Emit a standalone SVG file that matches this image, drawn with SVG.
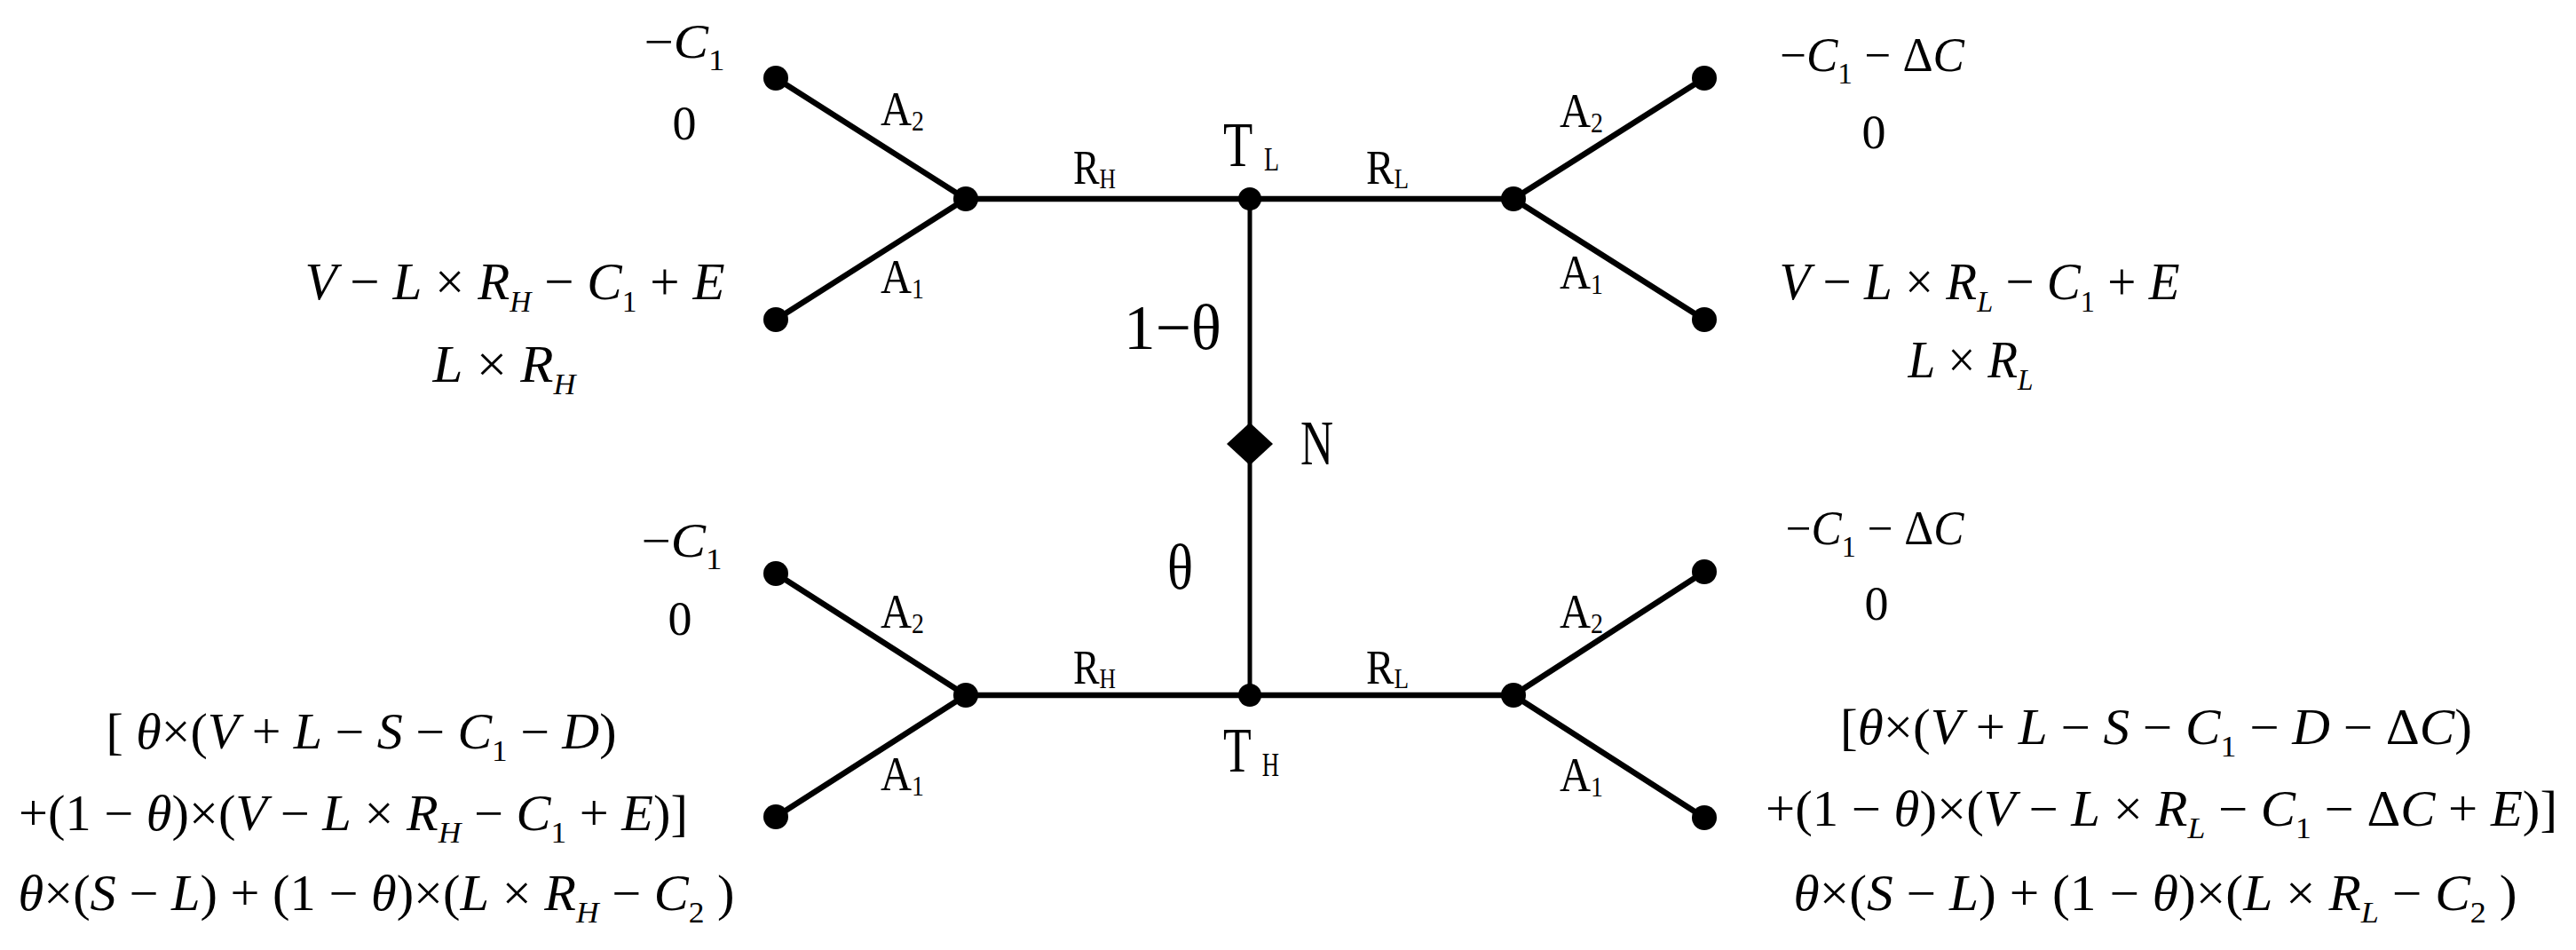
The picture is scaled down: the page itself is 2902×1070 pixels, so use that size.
<svg xmlns="http://www.w3.org/2000/svg" width="2902" height="1070" viewBox="0 0 2902 1070">
<style>
.bg{fill:#fff}
.ln{stroke:#000;stroke-width:6.5;fill:none;stroke-linecap:round}
.vl{stroke:#000;stroke-width:5;fill:none}
.dot{fill:#000}
text{font-family:"Liberation Serif","Times New Roman",serif;fill:#000}
.lab{font-size:54px}
.lab .s{font-size:31px}
.big{font-size:72px}
.big .s{font-size:37px}
.m60{font-size:60px}
.m56{font-size:56px}
.m54{font-size:54px}
.i{font-style:italic}
.sub{font-size:34px}
</style>
<rect class="bg" x="0" y="0" width="2902" height="1070"/>
<g id="connectors">
<line class="ln" x1="874" y1="88" x2="1088" y2="224"/>
<line class="ln" x1="874" y1="360" x2="1088" y2="224"/>
<line class="ln" x1="1088" y1="224" x2="1705" y2="224"/>
<line class="ln" x1="1705" y1="224" x2="1920" y2="88"/>
<line class="ln" x1="1705" y1="224" x2="1920" y2="360"/>
<line class="vl" x1="1408" y1="224" x2="1408" y2="783"/>
<line class="ln" x1="874" y1="646" x2="1088" y2="783"/>
<line class="ln" x1="874" y1="920" x2="1088" y2="783"/>
<line class="ln" x1="1088" y1="783" x2="1705" y2="783"/>
<line class="ln" x1="1705" y1="783" x2="1920" y2="644"/>
<line class="ln" x1="1705" y1="783" x2="1920" y2="921"/>
</g>
<g id="edge-labels">
<text class="lab" x="992" y="141" textLength="49" lengthAdjust="spacingAndGlyphs">A<tspan class="s" dy="6">2</tspan></text>
<text class="lab" x="992" y="330" textLength="49" lengthAdjust="spacingAndGlyphs">A<tspan class="s" dy="6">1</tspan></text>
<text class="lab" x="1209" y="207" textLength="48" lengthAdjust="spacingAndGlyphs">R<tspan class="s" dy="5">H</tspan></text>
<text class="lab" x="1539" y="207" textLength="48" lengthAdjust="spacingAndGlyphs">R<tspan class="s" dy="5">L</tspan></text>
<text class="lab" x="1757" y="143" textLength="49" lengthAdjust="spacingAndGlyphs">A<tspan class="s" dy="6">2</tspan></text>
<text class="lab" x="1757" y="325" textLength="49" lengthAdjust="spacingAndGlyphs">A<tspan class="s" dy="6">1</tspan></text>
<text class="big" x="1266" y="393" textLength="110" lengthAdjust="spacingAndGlyphs">1−θ</text>
<text class="big" x="1315" y="663" font-size="62" textLength="29" lengthAdjust="spacingAndGlyphs">θ</text>
<text class="lab" x="992" y="707" textLength="49" lengthAdjust="spacingAndGlyphs">A<tspan class="s" dy="6">2</tspan></text>
<text class="lab" x="992" y="890" textLength="49" lengthAdjust="spacingAndGlyphs">A<tspan class="s" dy="6">1</tspan></text>
<text class="lab" x="1209" y="770" textLength="48" lengthAdjust="spacingAndGlyphs">R<tspan class="s" dy="5">H</tspan></text>
<text class="lab" x="1539" y="770" textLength="48" lengthAdjust="spacingAndGlyphs">R<tspan class="s" dy="5">L</tspan></text>
<text class="lab" x="1757" y="707" textLength="49" lengthAdjust="spacingAndGlyphs">A<tspan class="s" dy="6">2</tspan></text>
<text class="lab" x="1757" y="891" textLength="49" lengthAdjust="spacingAndGlyphs">A<tspan class="s" dy="6">1</tspan></text>
</g>
<g id="node-TL">
<circle class="dot" cx="1408" cy="224" r="13"/>
<text class="big" x="1378" y="187" textLength="63" lengthAdjust="spacingAndGlyphs">T <tspan class="s" dy="5">L</tspan></text>
</g>
<g id="node-TH">
<circle class="dot" cx="1408" cy="783" r="13"/>
<text class="big" x="1378" y="869" textLength="63" lengthAdjust="spacingAndGlyphs">T <tspan class="s" dy="5">H</tspan></text>
</g>
<g id="node-N">
<polygon class="dot" points="1408,476 1434,500 1408,524 1382,500"/>
<text class="big" x="1465" y="523" textLength="37" lengthAdjust="spacingAndGlyphs">N</text>
</g>
<g id="node-TL-RH">
<circle class="dot" cx="1088" cy="224" r="14"/>
</g>
<g id="node-TL-RL">
<circle class="dot" cx="1705" cy="224" r="14"/>
</g>
<g id="node-TH-RH">
<circle class="dot" cx="1088" cy="783" r="14"/>
</g>
<g id="node-TH-RL">
<circle class="dot" cx="1705" cy="783" r="14"/>
</g>
<g id="leaf-TL-RH-A2">
<circle class="dot" cx="874" cy="88" r="14"/>
<text class="m54" x="771" y="65" text-anchor="middle" textLength="91" lengthAdjust="spacingAndGlyphs">−<tspan class="i">C</tspan><tspan class="sub" dy="14">1</tspan></text>
<text class="m54" x="771" y="157" text-anchor="middle">0</text>
</g>
<g id="leaf-TL-RH-A1">
<circle class="dot" cx="874" cy="360" r="14"/>
<text class="m60" x="580" y="337" text-anchor="middle" textLength="473" lengthAdjust="spacingAndGlyphs"><tspan class="i">V</tspan> − <tspan class="i">L</tspan> × <tspan class="i">R</tspan><tspan class="i sub" dy="14">H</tspan><tspan dy="-14"> − </tspan><tspan class="i">C</tspan><tspan class="sub" dy="14">1</tspan><tspan dy="-14"> + </tspan><tspan class="i">E</tspan></text>
<text class="m60" x="568" y="430" text-anchor="middle" textLength="161" lengthAdjust="spacingAndGlyphs"><tspan class="i">L</tspan> × <tspan class="i">R</tspan><tspan class="i sub" dy="14">H</tspan></text>
</g>
<g id="leaf-TL-RL-A2">
<circle class="dot" cx="1920" cy="88" r="14"/>
<text class="m54" x="2109" y="80" text-anchor="middle" textLength="208" lengthAdjust="spacingAndGlyphs">−<tspan class="i">C</tspan><tspan class="sub" dy="14">1</tspan><tspan dy="-14"> − Δ</tspan><tspan class="i">C</tspan></text>
<text class="m54" x="2111" y="167" text-anchor="middle">0</text>
</g>
<g id="leaf-TL-RL-A1">
<circle class="dot" cx="1920" cy="360" r="14"/>
<text class="m60" x="2230" y="337" text-anchor="middle" textLength="451" lengthAdjust="spacingAndGlyphs"><tspan class="i">V</tspan> − <tspan class="i">L</tspan> × <tspan class="i">R</tspan><tspan class="i sub" dy="14">L</tspan><tspan dy="-14"> − </tspan><tspan class="i">C</tspan><tspan class="sub" dy="14">1</tspan><tspan dy="-14"> + </tspan><tspan class="i">E</tspan></text>
<text class="m60" x="2220" y="425" text-anchor="middle" textLength="141" lengthAdjust="spacingAndGlyphs"><tspan class="i">L</tspan> × <tspan class="i">R</tspan><tspan class="i sub" dy="14">L</tspan></text>
</g>
<g id="leaf-TH-RH-A2">
<circle class="dot" cx="874" cy="646" r="14"/>
<text class="m54" x="768" y="627" text-anchor="middle" textLength="91" lengthAdjust="spacingAndGlyphs">−<tspan class="i">C</tspan><tspan class="sub" dy="14">1</tspan></text>
<text class="m54" x="766" y="715" text-anchor="middle">0</text>
</g>
<g id="leaf-TH-RH-A1">
<circle class="dot" cx="874" cy="920" r="14"/>
<text class="m56" x="407" y="843" text-anchor="middle" textLength="575" lengthAdjust="spacingAndGlyphs">[ <tspan class="i">θ</tspan>×(<tspan class="i">V</tspan> + <tspan class="i">L</tspan> − <tspan class="i">S</tspan> − <tspan class="i">C</tspan><tspan class="sub" dy="14">1</tspan><tspan dy="-14"> − </tspan><tspan class="i">D</tspan>)</text>
<text class="m56" x="398" y="935" text-anchor="middle" textLength="754" lengthAdjust="spacingAndGlyphs">+(1 − <tspan class="i">θ</tspan>)×(<tspan class="i">V</tspan> − <tspan class="i">L</tspan> × <tspan class="i">R</tspan><tspan class="i sub" dy="14">H</tspan><tspan dy="-14"> − </tspan><tspan class="i">C</tspan><tspan class="sub" dy="14">1</tspan><tspan dy="-14"> + </tspan><tspan class="i">E</tspan>)]</text>
<text class="m56" x="424" y="1025" text-anchor="middle" textLength="807" lengthAdjust="spacingAndGlyphs"><tspan class="i">θ</tspan>×(<tspan class="i">S</tspan> − <tspan class="i">L</tspan>) + (1 − <tspan class="i">θ</tspan>)×(<tspan class="i">L</tspan> × <tspan class="i">R</tspan><tspan class="i sub" dy="14">H</tspan><tspan dy="-14"> − </tspan><tspan class="i">C</tspan><tspan class="sub" dy="14">2</tspan><tspan dy="-14"> )</tspan></text>
</g>
<g id="leaf-TH-RL-A2">
<circle class="dot" cx="1920" cy="644" r="14"/>
<text class="m54" x="2112" y="613" text-anchor="middle" textLength="201" lengthAdjust="spacingAndGlyphs">−<tspan class="i">C</tspan><tspan class="sub" dy="14">1</tspan><tspan dy="-14"> − Δ</tspan><tspan class="i">C</tspan></text>
<text class="m54" x="2114" y="698" text-anchor="middle">0</text>
</g>
<g id="leaf-TH-RL-A1">
<circle class="dot" cx="1920" cy="921" r="14"/>
<text class="m56" x="2429" y="838" text-anchor="middle" textLength="712" lengthAdjust="spacingAndGlyphs">[<tspan class="i">θ</tspan>×(<tspan class="i">V</tspan> + <tspan class="i">L</tspan> − <tspan class="i">S</tspan> − <tspan class="i">C</tspan><tspan class="sub" dy="14">1</tspan><tspan dy="-14"> − </tspan><tspan class="i">D</tspan> − Δ<tspan class="i">C</tspan>)</text>
<text class="m56" x="2435" y="930" text-anchor="middle" textLength="892" lengthAdjust="spacingAndGlyphs">+(1 − <tspan class="i">θ</tspan>)×(<tspan class="i">V</tspan> − <tspan class="i">L</tspan> × <tspan class="i">R</tspan><tspan class="i sub" dy="14">L</tspan><tspan dy="-14"> − </tspan><tspan class="i">C</tspan><tspan class="sub" dy="14">1</tspan><tspan dy="-14"> − Δ</tspan><tspan class="i">C</tspan> + <tspan class="i">E</tspan>)]</text>
<text class="m56" x="2428" y="1025" text-anchor="middle" textLength="815" lengthAdjust="spacingAndGlyphs"><tspan class="i">θ</tspan>×(<tspan class="i">S</tspan> − <tspan class="i">L</tspan>) + (1 − <tspan class="i">θ</tspan>)×(<tspan class="i">L</tspan> × <tspan class="i">R</tspan><tspan class="i sub" dy="14">L</tspan><tspan dy="-14"> − </tspan><tspan class="i">C</tspan><tspan class="sub" dy="14">2</tspan><tspan dy="-14"> )</tspan></text>
</g>
</svg>
